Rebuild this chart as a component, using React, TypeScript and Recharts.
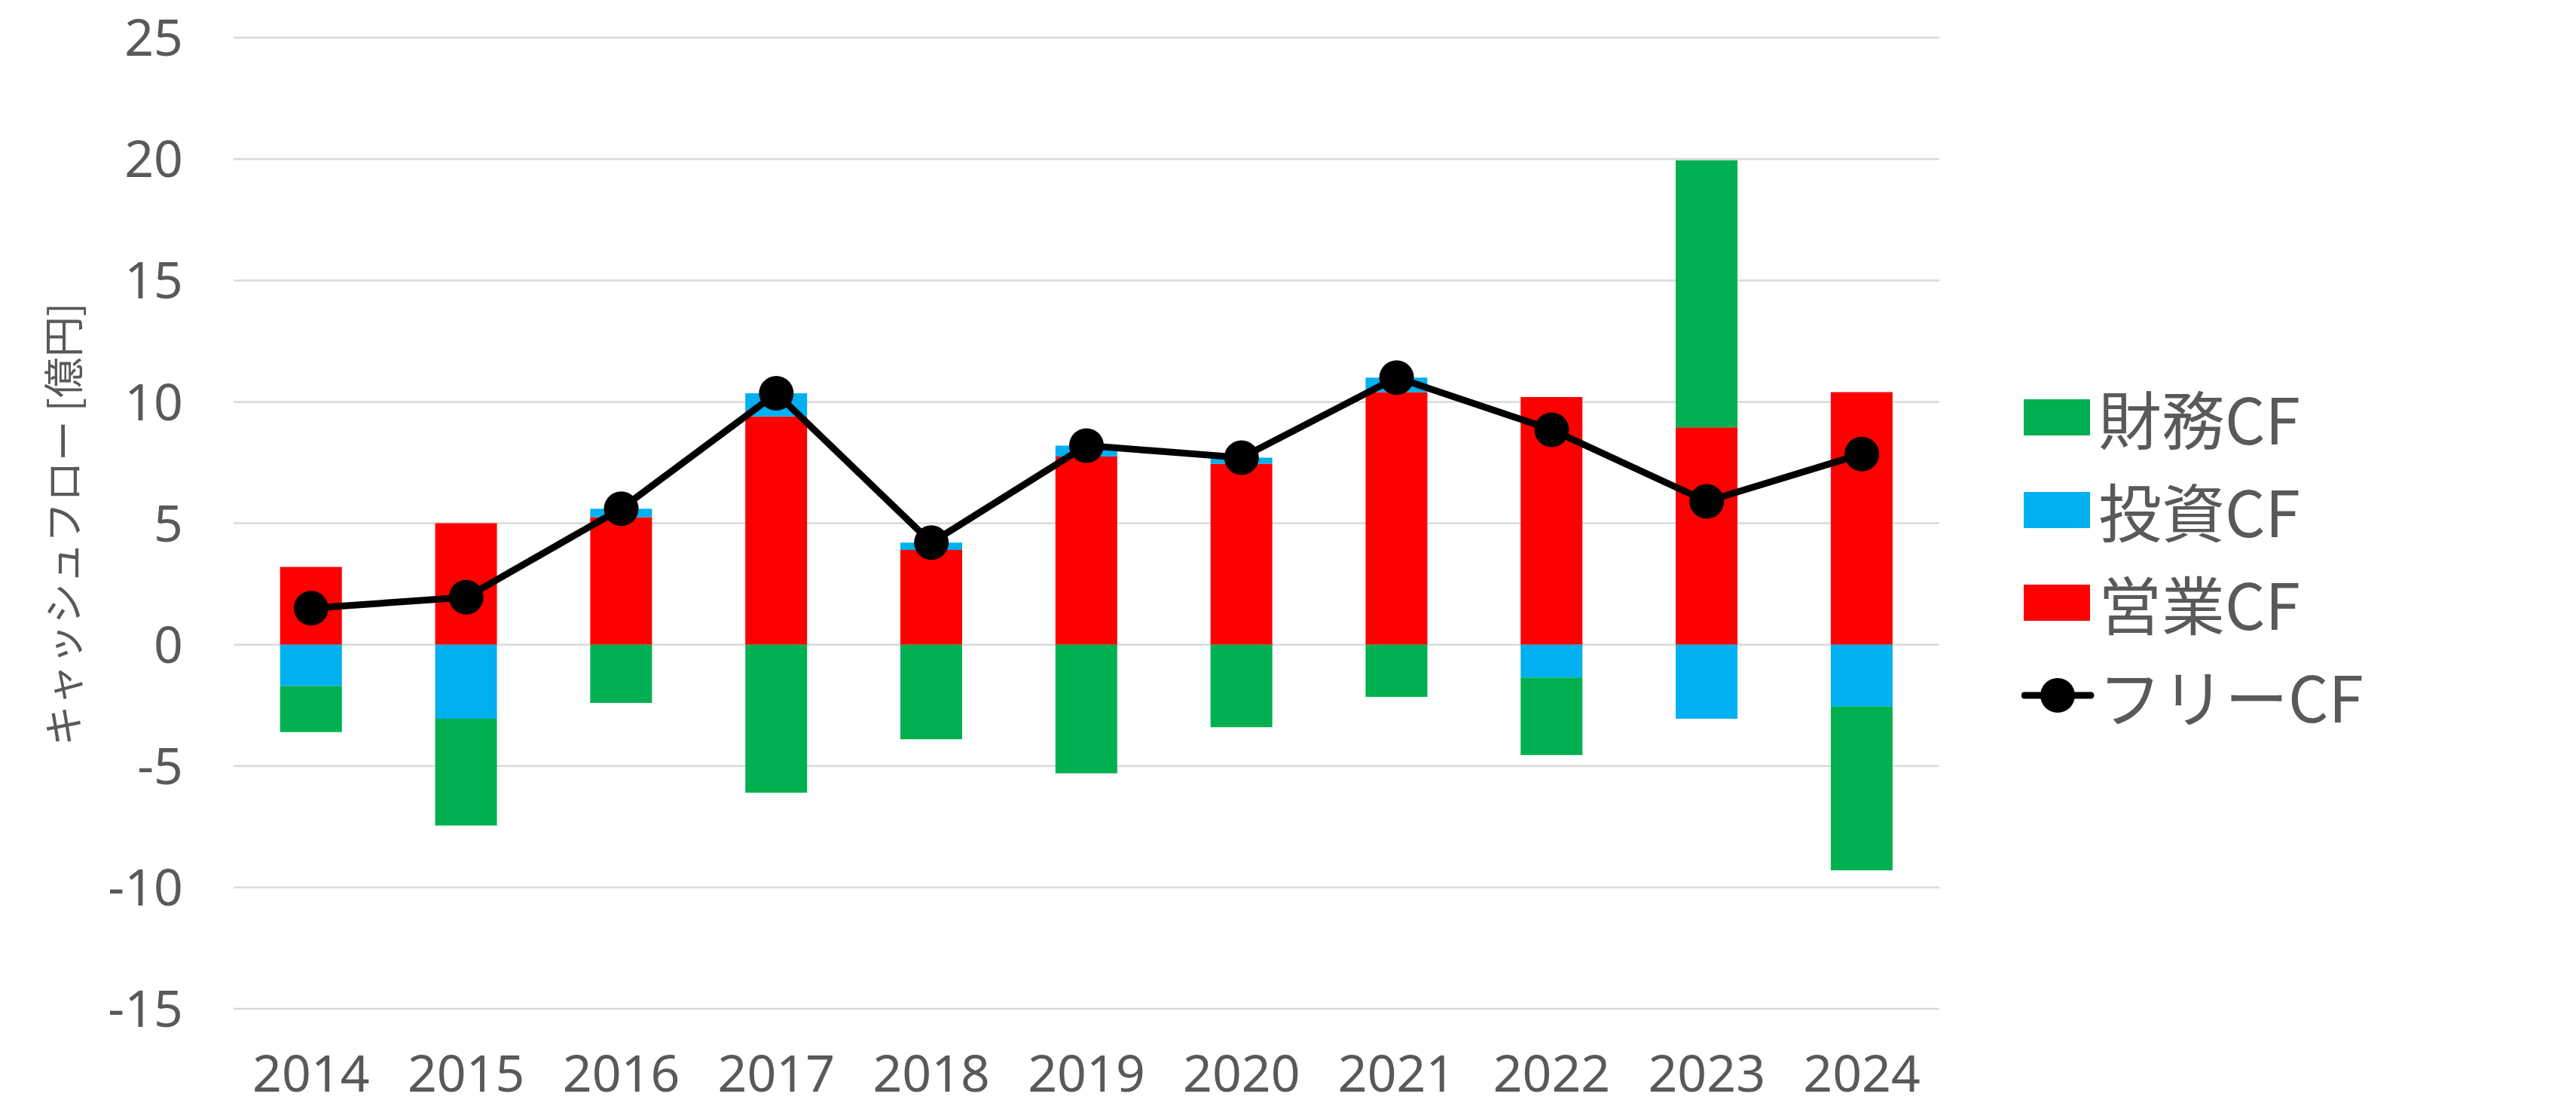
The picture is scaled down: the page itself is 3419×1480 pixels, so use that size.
import React from 'react';
import {
  ComposedChart,
  Bar,
  Line,
  XAxis,
  YAxis,
  CartesianGrid,
  Legend,
} from 'recharts';

// 年度
const years = ['2014', '2015', '2016', '2017', '2018', '2019', '2020', '2021', '2022', '2023', '2024'];

// 億円
const eigyoCF = [3.2, 5.0, 5.25, 9.4, 3.9, 7.75, 7.45, 10.4, 10.2, 8.95, 10.4];
const toshiCF = [-1.7, -3.05, 0.35, 0.95, 0.3, 0.45, 0.25, 0.6, -1.35, -3.05, -2.55];
const zaimuCF = [-1.9, -4.4, -2.4, -6.1, -3.9, -5.3, -3.4, -2.15, -3.2, 11.0, -6.75];
const freeCF = [1.5, 1.95, 5.6, 10.35, 4.2, 8.2, 7.7, 11.0, 8.85, 5.9, 7.85];

const yTicks = [-15, -10, -5, 0, 5, 10, 15, 20, 25];

const legendItems = [
  { name: '財務CF', color: '#00B050', type: 'bar' },
  { name: '投資CF', color: '#00B0F0', type: 'bar' },
  { name: '営業CF', color: '#FF0000', type: 'bar' },
  { name: 'フリーCF', color: '#000000', type: 'line' },
];

const data = years.map((year, i) => ({
  year,
  eigyo: eigyoCF[i],
  toshi: toshiCF[i],
  zaimu: zaimuCF[i],
  free: freeCF[i],
}));

const textColor = '#595959';

function CfLegend() {
  return (
    <div>
      {legendItems.map((item) => (
        <div
          key={item.name}
          style={{ display: 'flex', alignItems: 'center', height: 123 }}
        >
          <svg width={100} height={50}>
            {item.type === 'bar' ? (
              <rect x={3} y={1} width={88} height={48} fill={item.color} />
            ) : (
              <g>
                <line x1={4} y1={25} x2={92} y2={25} stroke={item.color} strokeWidth={9} strokeLinecap="round" />
                <circle cx={48} cy={25} r={23} fill={item.color} />
              </g>
            )}
          </svg>
          <span
            style={{
              fontFamily: '"Noto Sans CJK JP", sans-serif',
              fontSize: 84,
              color: textColor,
              marginLeft: 2,
              lineHeight: 1,
            }}
          >
            {item.name}
          </span>
        </div>
      ))}
    </div>
  );
}

export default function App() {
  return (
    <div style={{ width: 3419, height: 1480, background: '#fff' }}>
      <style>{'body{margin:0}'}</style>
      <ComposedChart
        width={3419}
        height={1480}
        data={data}
        stackOffset="sign"
        barCategoryGap="30%"
        margin={{ top: 50, right: 845, bottom: 0, left: 0 }}
      >
        <CartesianGrid vertical={false} stroke="#D9D9D9" strokeWidth={2.5} />
        <XAxis
          dataKey="year"
          height={141}
          axisLine={false}
          tickLine={false}
          tickSize={0}
          tickMargin={62}
          tick={{ fontFamily: '"Noto Sans", sans-serif', fontSize: 68, fill: textColor }}
        />
        <YAxis
          width={310}
          domain={[-15, 25]}
          ticks={yTicks}
          interval={0}
          axisLine={false}
          tickLine={false}
          tickSize={0}
          tickMargin={67}
          tick={{ fontFamily: '"Noto Sans", sans-serif', fontSize: 68, fill: textColor }}
          label={{
            content: () => (
              <text
                x={81}
                y={696}
                transform="rotate(-90 81 696)"
                textAnchor="middle"
                dominantBaseline="central"
                fontFamily='"Noto Sans CJK JP", sans-serif'
                fontSize={54}
                fill={textColor}
              >
                キャッシュフロー  [億円]
              </text>
            ),
          }}
        />
        <Legend
          layout="horizontal"
          align="center"
          verticalAlign="middle"
          wrapperStyle={{ left: 2683, top: 492, width: 500 }}
          content={() => <CfLegend />}
        />
        <Bar dataKey="eigyo" name="営業CF" stackId="cf" fill="#FF0000" isAnimationActive={false} />
        <Bar dataKey="toshi" name="投資CF" stackId="cf" fill="#00B0F0" isAnimationActive={false} />
        <Bar dataKey="zaimu" name="財務CF" stackId="cf" fill="#00B050" isAnimationActive={false} />
        <Line
          dataKey="free"
          name="フリーCF"
          type="linear"
          stroke="#000000"
          strokeWidth={9}
          dot={{ r: 23, fill: '#000000', stroke: 'none' }}
          activeDot={false}
          isAnimationActive={false}
        />
      </ComposedChart>
    </div>
  );
}
